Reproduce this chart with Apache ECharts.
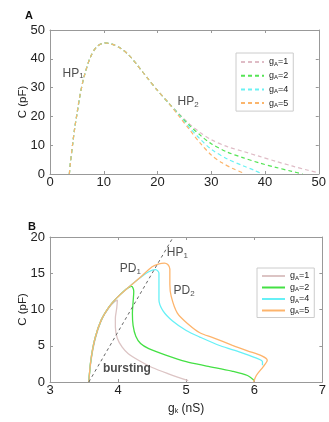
<!DOCTYPE html>
<html>
<head>
<meta charset="utf-8">
<script src="https://cdn.jsdelivr.net/npm/echarts@6/dist/echarts.min.js"></script>
<style>
  html, body { margin: 0; padding: 0; background: #fff; }
  #chart { width: 329px; height: 422px; }
</style>
</head>
<body>
<div id="chart"></div>
<script>
// ---- panel A: Hopf curves, C vs gk ----
// shared rising part (all four curves sit on top of each other here)
const riseX = [3.6, 3.8, 4.2, 4.6, 5.1, 5.5, 6.3, 7.5, 8.7, 10.2, 11.5, 13, 14.5, 16, 18, 20, 22];
const riseY = [0, 4, 10.2, 16, 21.8, 26.5, 33.5, 40.5, 44.2, 45.5, 45.1, 43.8, 41.6, 38.4, 33.6, 29.0, 24.8];
// tails for each gA
const tailA1X = [24, 26, 28, 30, 33, 36, 39, 42, 45, 48, 50];
const tailA1Y = [20.9, 17.3, 14.3, 11.9, 9.5, 7.8, 6.1, 4.4, 2.8, 1.3, 0.4];
const tailA2X = [24, 26, 28, 30, 33, 36, 39, 42, 45, 47];
const tailA2Y = [20.7, 16.8, 13.4, 10.5, 7.6, 5.6, 3.8, 2.3, 0.9, 0];
const tailA4X = [24, 26, 28, 30, 33, 36, 38, 39.5];
const tailA4Y = [20.4, 16.0, 12.0, 8.6, 5.2, 2.8, 1.3, 0];
const tailA5X = [24, 26, 28, 30, 32, 34, 36, 36.2];
const tailA5Y = [20.1, 15.3, 10.6, 6.6, 3.9, 1.9, 0.3, 0];

// ---- panel B: period-doubling curves ----
const b1X = [3.57, 3.59, 3.63, 3.69, 3.77, 3.87, 3.95, 3.99, 3.98, 3.96, 3.96, 3.99, 4.06, 4.15, 4.3, 4.5, 4.75, 5.03];
const b1Y = [0, 2, 4.5, 6.8, 8.8, 10.3, 11.1, 11.3, 10.2, 8.8, 7.6, 6.0, 4.8, 3.9, 3.0, 2.0, 1.1, 0.2];
const b2X = [3.57, 3.6, 3.66, 3.75, 3.87, 3.98, 4.08, 4.15, 4.2, 4.23, 4.22, 4.21, 4.22, 4.26, 4.33, 4.45, 4.7, 5.0, 5.3, 5.67, 5.9, 6.0];
const b2Y = [0, 3, 6, 8.5, 10.4, 11.6, 12.5, 13.0, 13.2, 12.5, 11, 9.5, 7.8, 6.3, 5.3, 4.6, 3.7, 2.8, 2.2, 1.5, 0.9, 0.2];
const b4X = [3.57, 3.6, 3.66, 3.75, 3.87, 3.98, 4.12, 4.3, 4.45, 4.55, 4.6, 4.6, 4.6, 4.66, 4.8, 5.0, 5.2, 5.5, 5.8, 6.0, 6.12, 6.12];
const b4Y = [0, 3, 6, 8.5, 10.4, 11.6, 12.8, 14.2, 15.2, 15.5, 15.0, 13.3, 11.3, 9.8, 8.4, 7.1, 6.2, 5.0, 4.1, 3.4, 2.8, 2.3];
const b5X = [3.57, 3.6, 3.66, 3.75, 3.87, 3.98, 4.12, 4.31, 4.5, 4.6, 4.68, 4.73, 4.76, 4.76, 4.78, 4.87, 5.04, 5.2, 5.4, 5.67, 5.9, 6.11, 6.19, 6.13, 6.03, 5.99];
const b5Y = [0, 3, 6, 8.5, 10.4, 11.6, 12.8, 14.3, 15.9, 16.3, 16.4, 16.2, 15.6, 13.5, 11.8, 9.5, 7.9, 6.8, 6.1, 5.1, 4.3, 3.6, 3.0, 2.1, 0.9, 0];
// HP1 line in panel B
const hpLineX = [3.57, 4.81];
const hpLineY = [0, 20];

const gA = ['1', '2', '4', '5'];
const colorsA = ['#dfbcc6', '#55e455', '#6af2f4', '#fbb56c'];
const colorsB = ['#dcc4c4', '#44e044', '#66f0f6', '#fdb46c'];

// annotations (data coordinates)
const notesA = [{ name: 'HP{s|1}', value: [4.3, 35] }, { name: 'HP{s|2}', value: [25.7, 25] }];
const notesB = [
    { name: 'HP{s|1}', value: [4.87, 17.8] },
    { name: 'PD{s|1}', value: [4.18, 15.6] },
    { name: 'PD{s|2}', value: [4.97, 12.6] },
    { name: '{b|bursting}', value: [4.13, 1.8] }
];

function pts(xs, ys) {
    return xs.map((x, i) => [x, ys[i]]);
}

const font = 'Liberation Sans, Arial, sans-serif';
const axisGrey = '#999';

function boxAxes(gridIndex, min, max, interval, isX, name) {
    const base = {
        type: 'value', gridIndex, min, max, interval,
        axisLine: { show: true, onZero: false, lineStyle: { color: axisGrey } },
        axisTick: { show: true, inside: true, length: 3, lineStyle: { color: axisGrey } },
        splitLine: { show: false }
    };
    const main = Object.assign({}, base, {
        position: isX ? 'bottom' : 'left',
        axisLabel: { color: '#222', fontSize: 13, fontFamily: font, margin: isX ? 2 : 5 },
        name: name || '',
        nameLocation: 'middle',
        nameGap: isX ? 21 : 21,
        nameMoveOverlap: false,
        nameTextStyle: {
            color: '#222', fontSize: isX ? 12 : 11.5, fontFamily: font,
            rich: { s: { fontSize: 7, fontFamily: font, color: '#222', verticalAlign: 'bottom', lineHeight: 6 } }
        }
    });
    const mirror = Object.assign({}, base, {
        position: isX ? 'top' : 'right',
        axisLabel: { show: false }
    });
    return [main, mirror];
}

const xA = boxAxes(0, 0, 50, 10, true);
const yA = boxAxes(0, 0, 50, 10, false, 'C (pF)');
const xB = boxAxes(1, 3, 7, 1, true, 'g{s|k} (nS)');
const yB = boxAxes(1, 0, 20, 5, false, 'C (pF)');

const tailsX = [tailA1X, tailA2X, tailA4X, tailA5X];
const tailsY = [tailA1Y, tailA2Y, tailA4Y, tailA5Y];
const seriesA = gA.map((g, i) => ({
    name: 'A:' + g,
    type: 'line',
    xAxisIndex: 0, yAxisIndex: 0,
    symbol: 'none',
    smooth: 0.3,
    data: pts(riseX.concat(tailsX[i]), riseY.concat(tailsY[i])),
    lineStyle: { color: colorsA[i], width: 1.2, type: [4, 3] },
    itemStyle: { color: colorsA[i] },
    z: 2 + i
}));

const bX = [b1X, b2X, b4X, b5X];
const bY = [b1Y, b2Y, b4Y, b5Y];
const seriesB = gA.map((g, i) => ({
    name: 'B:' + g,
    type: 'line',
    xAxisIndex: 2, yAxisIndex: 2,
    symbol: 'none',
    smooth: 0.3,
    data: pts(bX[i], bY[i]),
    lineStyle: { color: colorsB[i], width: 1.3 },
    itemStyle: { color: colorsB[i] },
    z: 2 + i
}));

const noteRich = {
    s: { fontSize: 8, fontFamily: font, color: '#222', verticalAlign: 'bottom', lineHeight: 7 },
    b: { fontSize: 12, fontWeight: 'bold', fontFamily: font, color: '#222' }
};
function noteSeries(data, xi, yi) {
    return {
        type: 'scatter', xAxisIndex: xi, yAxisIndex: yi,
        symbolSize: 0, silent: true, data,
        label: {
            show: true, position: 'inside', formatter: p => p.name,
            color: '#222', fontSize: 12, fontFamily: font, lineHeight: 14, rich: noteRich
        },
        z: 10
    };
}

const legendCommon = {
    orient: 'vertical',
    backgroundColor: '#fff',
    borderColor: '#ccc',
    borderWidth: 1,
    borderRadius: 0,
    itemWidth: 23,
    itemHeight: 8,
    selectedMode: false,
    itemStyle: { opacity: 0 },
    formatter: n => 'g{s|A}=' + n.split(':')[1],
    textStyle: {
        color: '#222', fontSize: 9, fontFamily: font, lineHeight: 10,
        rich: { s: { fontSize: 6, fontFamily: font, color: '#222', verticalAlign: 'bottom', lineHeight: 5 } }
    }
};

const chart = echarts.init(document.getElementById('chart'), null, { renderer: 'canvas' });
chart.setOption({
    backgroundColor: '#fff',
    animation: false,
    title: [
        { text: 'A', left: 20, top: 5, textStyle: { fontSize: 11, fontWeight: 'bold', fontFamily: font, color: '#111' } },
        { text: 'B', left: 23, top: 216, textStyle: { fontSize: 11, fontWeight: 'bold', fontFamily: font, color: '#111' } }
    ],
    grid: [
        { left: 50, right: 4, top: 30, height: 144 },
        { left: 50, right: 4, top: 237, height: 145 }
    ],
    xAxis: [xA[0], xA[1], xB[0], xB[1]],
    yAxis: [yA[0], yA[1], yB[0], yB[1]],
    legend: [
        Object.assign({}, legendCommon, {
            left: 236, top: 53, itemGap: 3.7, padding: [4, 5, 3, 4],
            data: gA.map(g => 'A:' + g)
        }),
        Object.assign({}, legendCommon, {
            left: 257, top: 268, itemGap: 1.5, padding: [3, 5, 2, 4],
            data: gA.map(g => 'B:' + g)
        })
    ],
    series: [
        ...seriesA,
        {
            name: 'HP1 line', type: 'line', xAxisIndex: 2, yAxisIndex: 2,
            symbol: 'none', data: pts(hpLineX, hpLineY),
            lineStyle: { color: '#666', width: 1, type: [3, 3] }, z: 8
        },
        ...seriesB,
        noteSeries(notesA, 0, 0),
        noteSeries(notesB, 2, 2)
    ]
});
</script>
</body>
</html>
